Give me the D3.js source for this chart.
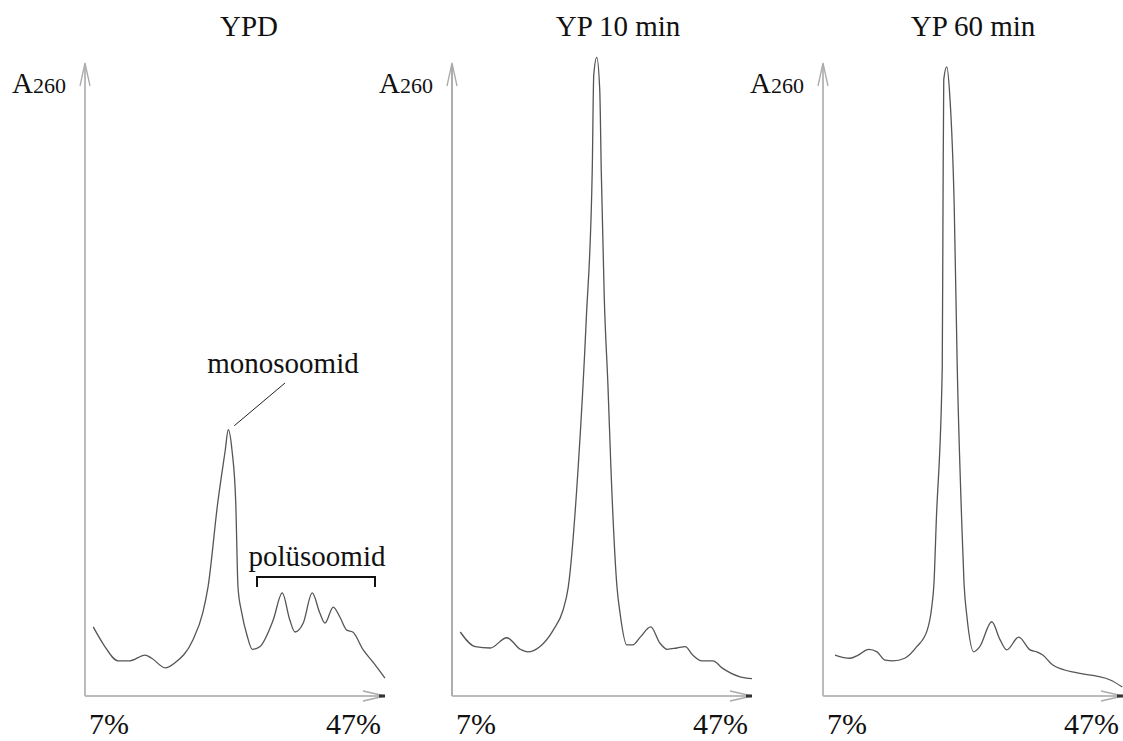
<!DOCTYPE html>
<html>
<head>
<meta charset="utf-8">
<style>
  body { margin: 0; background: #fff; }
  svg text { font-family: "Liberation Serif", "Times New Roman", serif; fill: #111; }
</style>
</head>
<body>
<script src="https://cdn.jsdelivr.net/npm/d3@7"></script>
<script>

// panel titles
var titles = ["YPD", "YP 10 min", "YP 60 min"];
var xTickLabels = ["7%", "47%"];

// sucrose gradient position (%) and A260 (relative, 0-100)
var gradYPD = [8.1, 9.5, 11.4, 13.0, 15.0, 15.9, 17.7, 19.0, 21.4, 22.7, 23.4, 24.7, 25.7, 26.1, 26.6, 27.1, 27.4, 27.9, 28.6, 29.3, 30.3, 32.1, 33.3, 34.3, 35.0, 36.1, 37.3, 38.3, 39.0, 40.1, 41.0, 41.9, 42.7, 44.1, 45.4, 47.0];
var a260YPD = [10.8, 8.0, 5.5, 5.5, 6.4, 5.9, 4.4, 5.2, 8.8, 13.0, 17.0, 30.2, 38.4, 41.6, 38.4, 30.2, 17.0, 13.0, 9.5, 7.3, 7.7, 11.9, 16.1, 11.9, 10.0, 11.4, 16.1, 13.0, 11.4, 13.9, 12.3, 10.3, 10.0, 7.2, 5.3, 2.8];

var grad10 = [8.1, 10.1, 12.1, 14.3, 16.1, 17.1, 18.7, 20.5, 21.8, 22.5, 23.8, 24.9, 25.7, 25.9, 26.3, 26.7, 26.9, 27.3, 27.8, 28.2, 29.0, 29.4, 30.3, 31.1, 32.1, 33.5, 34.7, 35.7, 37.0, 38.1, 39.1, 40.3, 41.8, 43.0, 45.4, 47.0];
var a260_10 = [10.0, 7.7, 7.5, 9.1, 7.3, 6.9, 7.7, 10.3, 13.4, 17.0, 35.3, 58.8, 82.2, 97.0, 99.8, 94.7, 82.2, 62.3, 48.3, 35.3, 17.0, 13.0, 8.0, 8.0, 9.2, 10.8, 8.3, 7.3, 7.5, 7.7, 6.4, 5.5, 5.5, 4.4, 3.0, 2.7];

var grad60 = [8.6, 10.6, 11.7, 13.1, 14.2, 15.3, 16.3, 17.9, 19.5, 20.9, 21.5, 21.8, 22.1, 22.9, 23.0, 23.1, 23.5, 23.9, 24.5, 24.9, 25.5, 25.8, 26.2, 27.1, 27.9, 29.5, 30.6, 31.5, 33.1, 34.6, 35.5, 36.3, 37.7, 40.9, 43.5, 45.3, 46.9];
var a260_60 = [6.4, 5.9, 6.4, 7.3, 6.9, 5.6, 5.5, 5.9, 7.7, 10.3, 13.9, 17.7, 27.2, 51.3, 76.3, 96.3, 98.3, 93.9, 76.3, 51.3, 27.2, 17.7, 12.3, 6.9, 7.7, 11.6, 8.8, 7.2, 9.2, 7.2, 6.9, 6.4, 4.8, 3.6, 3.1, 2.5, 1.4];

var panels = [
  { title: titles[0], x: gradYPD, y: a260YPD, left: 85,  titleX: 249, yAxisColor: "#bbb", yAxisWidth: 2 },
  { title: titles[1], x: grad10,  y: a260_10, left: 452, titleX: 618, yAxisColor: "#777", yAxisWidth: 1.2 },
  { title: titles[2], x: grad60,  y: a260_60, left: 823, titleX: 973, yAxisColor: "#bbb", yAxisWidth: 2 }
];

var width = 1123,
    height = 741,
    axisLen = 300,
    baseY = 696;

var svg = d3.select("body")
    .append("svg")
    .attr("width", width)
    .attr("height", height);

panels.forEach(function(p) {
  var x = d3.scaleLinear().domain([7, 47]).range([p.left, p.left + axisLen]);
  var y = d3.scaleLinear().domain([0, 100]).range([baseY, 56]);

  var g = svg.append("g");

  // title
  g.append("text")
      .attr("x", p.titleX)
      .attr("y", 36)
      .attr("text-anchor", "middle")
      .style("font-size", "29px")
      .text(p.title);

  // A260 label
  var lab = g.append("text")
      .attr("x", p.left - 73)
      .attr("y", 93)
      .style("font-size", "29px");
  lab.append("tspan").text("A");
  lab.append("tspan").style("font-size", "22px").text("260");

  // y axis
  g.append("line")
      .attr("x1", p.left).attr("x2", p.left)
      .attr("y1", baseY).attr("y2", 64)
      .attr("stroke", p.yAxisColor)
      .attr("stroke-width", p.yAxisWidth);
  g.append("path")
      .attr("d", "M" + (p.left - 5) + ",86L" + p.left + ",63L" + (p.left + 5) + ",86")
      .attr("fill", "none")
      .attr("stroke", "#aaa")
      .attr("stroke-width", 1.3);

  // x axis
  var xEnd = p.left + axisLen;
  g.append("line")
      .attr("x1", p.left).attr("x2", xEnd - 2)
      .attr("y1", baseY).attr("y2", baseY)
      .attr("stroke", "#bbb")
      .attr("stroke-width", 2);
  g.append("path")
      .attr("d", "M" + (xEnd - 22) + "," + (baseY - 5) + "L" + xEnd + "," + baseY + "L" + (xEnd - 22) + "," + (baseY + 5))
      .attr("fill", "none")
      .attr("stroke", "#aaa")
      .attr("stroke-width", 1.3);
  g.append("rect")
      .attr("x", xEnd - 6).attr("y", baseY - 1.5)
      .attr("width", 6).attr("height", 3)
      .attr("fill", "#333");

  // tick labels
  g.append("text")
      .attr("x", p.left + 4)
      .attr("y", 734)
      .style("font-size", "30px")
      .text(xTickLabels[0]);
  g.append("text")
      .attr("x", xEnd - 4)
      .attr("y", 734)
      .attr("text-anchor", "end")
      .style("font-size", "30px")
      .text(xTickLabels[1]);

  // profile
  var line = d3.line()
      .x(function(d) { return x(d[0]); })
      .y(function(d) { return y(d[1]); })
      .curve(d3.curveMonotoneX);

  g.append("path")
      .datum(d3.zip(p.x, p.y))
      .attr("d", line)
      .attr("fill", "none")
      .attr("stroke", "#555")
      .attr("stroke-width", 1.3);

  p.xs = x; p.ys = y;
});

// annotations on the YPD panel
var p0 = panels[0];
var iPeak = d3.maxIndex(a260YPD);
svg.append("text")
    .attr("x", 283)
    .attr("y", 373)
    .attr("text-anchor", "middle")
    .style("font-size", "29px")
    .text("monosoomid");
svg.append("line")
    .attr("x1", 285).attr("y1", 383)
    .attr("x2", p0.xs(gradYPD[iPeak]) + 6).attr("y2", p0.ys(a260YPD[iPeak]) - 4)
    .attr("stroke", "#222")
    .attr("stroke-width", 1);

svg.append("text")
    .attr("x", 317)
    .attr("y", 566)
    .attr("text-anchor", "middle")
    .style("font-size", "29px")
    .text("polüsoomid");
svg.append("path")
    .attr("d", "M257,587V577H375V587")
    .attr("fill", "none")
    .attr("stroke", "#111")
    .attr("stroke-width", 2);

</script>
</body>
</html>
